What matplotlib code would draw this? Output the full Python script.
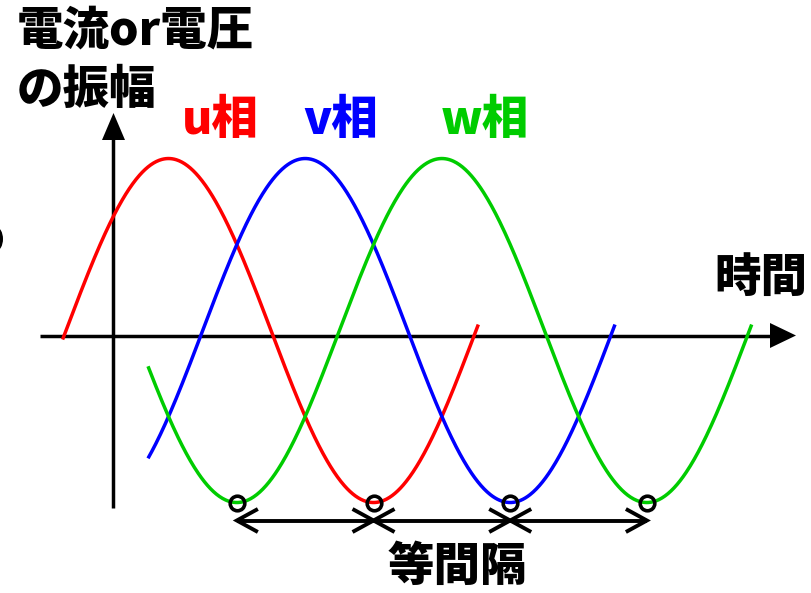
import numpy as np
import matplotlib
matplotlib.use("Agg")
import matplotlib.pyplot as plt
from matplotlib.patches import Polygon, Ellipse

plt.rcParams['font.family'] = ['Noto Sans CJK JP', 'DejaVu Sans']

# ---- data ----
phase_names = ["u相", "v相", "w相"]
phase_shift_deg = [0, 120, 240]
phase_colors = ["#ff0000", "#0000ff", "#00cc00"]
start_deg = [-3, 72, 72]
end_deg = [362, 482, 602]
amplitude = 1.0
offset = 0.026
trough_deg = [150, 270, 390, 510]  # marked minima (equal spacing)

# ---- pixel -> data helpers (layout) ----
W, H = 812, 593
def X(px):
    return (px - 66) / 1.139
def Y(py):
    return (335 - py) / 172.0

fig = plt.figure(figsize=(W / 100, H / 100), dpi=100)
ax = fig.add_axes([0, 0, 1, 1])
ax.set_xlim(X(0), X(W))
ax.set_ylim(Y(H), Y(0))
ax.axis('off')

LW = 2.5

# axes
ax.plot([X(40), X(772)], [Y(335.5), Y(335.5)], color='black', lw=LW, solid_capstyle='butt')
ax.add_patch(Polygon([[X(796), Y(335.5)], [X(770), Y(323)], [X(770), Y(348)]], closed=True,
                     color='black', lw=0))
ax.plot([X(113.5), X(113.5)], [Y(508), Y(138)], color='black', lw=LW, solid_capstyle='butt')
ax.add_patch(Polygon([[X(113.5), Y(113)], [X(102), Y(140)], [X(125), Y(140)]], closed=True,
                     color='black', lw=0))

# partial glyph at left edge
ax.add_patch(Ellipse((X(-4), Y(239)), width=X(14) - X(0), height=Y(226) - Y(250),
                     color='black', lw=0))

# sine curves
for name, sh, c, s, e in zip(phase_names, phase_shift_deg, phase_colors, start_deg, end_deg):
    th = np.linspace(s, e, 600)
    ax.plot(th, amplitude * np.sin(np.radians(th - sh)) + offset, color=c, lw=LW,
            solid_capstyle='butt')

# trough markers
ymin = -amplitude + offset
ax.plot(trough_deg, [ymin] * len(trough_deg), 'o', ms=10.5, mfc='none', mec='black', mew=2.6)

# equal spacing arrows
ya = Y(520.5)
hl = X(21) - X(0)
hw = Y(509) - Y(520.5)
lwa = 2.8
for a, b in zip(trough_deg[:-1], trough_deg[1:]):
    ax.plot([a, b], [ya, ya], color='black', lw=lwa, solid_capstyle='butt')
    for tip, d in ((a, 1), (b, -1)):
        ax.plot([tip + d * hl, tip, tip + d * hl], [ya + hw, ya, ya - hw], color='black', lw=lwa,
                solid_joinstyle='miter', solid_capstyle='butt')

# texts
fs = 33.5
fw = 'heavy'
ax.text(X(17), Y(31), "電流or電圧", fontsize=fs, fontweight=fw, ha='left', va='center')
ax.text(X(17), Y(91), "の振幅", fontsize=fs, fontweight=fw, ha='left', va='center')
label_px = [220, 341, 485]
for name, c, px in zip(phase_names, phase_colors, label_px):
    ax.text(X(px), Y(120), name, fontsize=fs, fontweight=fw, color=c, ha='center', va='center')
ax.text(X(761), Y(278), "時間", fontsize=fs, fontweight=fw, ha='center', va='center')
ax.text(X(457), Y(567), "等間隔", fontsize=fs, fontweight=fw, ha='center', va='center')

fig.savefig("out.png", dpi=100)
